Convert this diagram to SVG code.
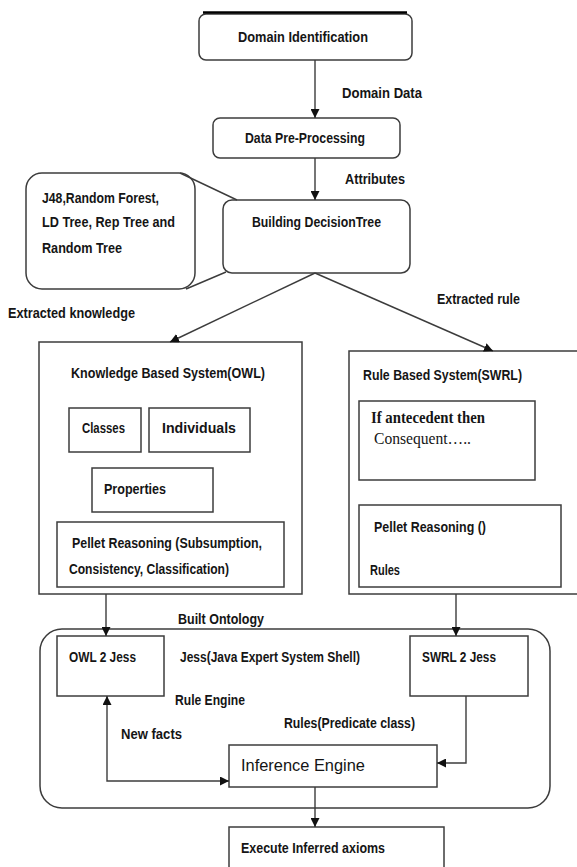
<svg xmlns="http://www.w3.org/2000/svg" width="577" height="867" viewBox="0 0 577 867">
<style>
.b{fill:#fff;stroke:#3c3c3c;stroke-width:1.5}
.c{fill:none;stroke:#3c3c3c;stroke-width:1.4}
.t{font-family:"Liberation Sans",Arial,sans-serif;font-weight:bold;font-size:15px;fill:#151515}
.r{font-family:"Liberation Sans",Arial,sans-serif;font-size:17px;fill:#151515}
.s{font-family:"Liberation Serif","Times New Roman",serif;font-size:16px;fill:#151515}
</style>
<defs>
<marker id="ah" viewBox="0 0 10 10" refX="10" refY="5" markerWidth="9" markerHeight="9" markerUnits="userSpaceOnUse" orient="auto-start-reverse">
<path d="M0,0 L10,5 L0,10 z" fill="#111"/>
</marker>
</defs>
<rect width="577" height="867" fill="#fff"/>

<g id="domain-identification">
<rect class="b" x="199" y="14" width="213" height="46" rx="7"/>
<path d="M203,12.5 L407,12.5" stroke="#000" stroke-width="2.5"/>
<text class="t" x="238" y="42" textLength="130" lengthAdjust="spacingAndGlyphs">Domain Identification</text>
</g>
<g id="data-preprocessing">
<rect class="b" x="213" y="118" width="187" height="40" rx="7"/>
<text class="t" x="245" y="143" textLength="120" lengthAdjust="spacingAndGlyphs">Data Pre-Processing</text>
</g>
<g id="building-decision-tree">
<rect class="b" x="223" y="200" width="187" height="73" rx="9"/>
<text class="t" x="252" y="227" textLength="129" lengthAdjust="spacingAndGlyphs">Building DecisionTree</text>
</g>
<g id="algorithms-callout">
<rect class="b" x="26" y="173" width="169" height="116" rx="16"/>
<path class="c" d="M180,173 L237,200 M186,289 L226,272"/>
<text class="t" x="42" y="203" textLength="117" lengthAdjust="spacingAndGlyphs">J48,Random Forest,</text>
<text class="t" x="42" y="227" textLength="133" lengthAdjust="spacingAndGlyphs">LD Tree, Rep Tree and</text>
<text class="t" x="42" y="253" textLength="80" lengthAdjust="spacingAndGlyphs">Random Tree</text>
</g>

<g id="knowledge-based-system">
<rect class="b" x="39" y="342" width="263" height="252"/>
<text class="t" x="71" y="378" textLength="194" lengthAdjust="spacingAndGlyphs">Knowledge Based System(OWL)</text>
</g>
<g id="classes">
<rect class="b" x="69" y="408" width="72" height="44"/>
<text class="t" x="82" y="433" textLength="43" lengthAdjust="spacingAndGlyphs">Classes</text>
</g>
<g id="individuals">
<rect class="b" x="149" y="408" width="101" height="44"/>
<text class="t" x="162" y="433" textLength="74" lengthAdjust="spacingAndGlyphs">Individuals</text>
</g>
<g id="properties">
<rect class="b" x="92" y="468" width="121" height="44"/>
<text class="t" x="104" y="494" textLength="62" lengthAdjust="spacingAndGlyphs">Properties</text>
</g>
<g id="pellet-reasoning-owl">
<rect class="b" x="57" y="522" width="227" height="65"/>
<text class="t" x="72" y="548" textLength="190" lengthAdjust="spacingAndGlyphs">Pellet Reasoning (Subsumption,</text>
<text class="t" x="69" y="574" textLength="160" lengthAdjust="spacingAndGlyphs">Consistency, Classification)</text>
</g>

<g id="rule-based-system">
<rect class="b" x="349" y="351" width="240" height="243"/>
<text class="t" x="363" y="380" textLength="159" lengthAdjust="spacingAndGlyphs">Rule Based System(SWRL)</text>
</g>
<g id="if-antecedent">
<rect class="b" x="359" y="401" width="176" height="79"/>
<text class="s" x="371" y="423" font-weight="bold" textLength="114" lengthAdjust="spacingAndGlyphs">If antecedent then</text>
<text class="s" x="374" y="444" font-size="15" textLength="97" lengthAdjust="spacingAndGlyphs">Consequent…..</text>
</g>
<g id="pellet-reasoning-swrl">
<rect class="b" x="359" y="505" width="202" height="82"/>
<text class="t" x="374" y="532" textLength="112" lengthAdjust="spacingAndGlyphs">Pellet Reasoning ()</text>
<text class="t" x="370" y="575" textLength="30" lengthAdjust="spacingAndGlyphs">Rules</text>
</g>

<g id="jess-container">
<rect class="b" x="40" y="629" width="510" height="179" rx="22"/>
<text class="t" x="180" y="662" textLength="180" lengthAdjust="spacingAndGlyphs">Jess(Java Expert System Shell)</text>
<text class="t" x="175" y="705" textLength="70" lengthAdjust="spacingAndGlyphs">Rule Engine</text>
</g>
<g id="owl2jess">
<rect class="b" x="57" y="636" width="107" height="60"/>
<text class="t" x="69" y="662" textLength="67" lengthAdjust="spacingAndGlyphs">OWL 2 Jess</text>
</g>
<g id="swrl2jess">
<rect class="b" x="410" y="636" width="118" height="60"/>
<text class="t" x="422" y="662" textLength="74" lengthAdjust="spacingAndGlyphs">SWRL 2 Jess</text>
</g>
<g id="inference-engine">
<rect class="b" x="229" y="745" width="208" height="42"/>
<text class="r" x="241" y="771" textLength="124" lengthAdjust="spacingAndGlyphs">Inference Engine</text>
</g>
<g id="execute-inferred-axioms">
<rect class="b" x="229" y="827" width="215" height="60"/>
<text class="t" x="241" y="853" textLength="144" lengthAdjust="spacingAndGlyphs">Execute Inferred axioms</text>
</g>

<g id="connectors">
<path class="c" d="M315,60 L315,118" marker-end="url(#ah)"/>
<path class="c" d="M315,158 L315,200" marker-end="url(#ah)"/>
<path class="c" d="M315,273 L170,342" marker-end="url(#ah)"/>
<path class="c" d="M315,273 L493,351" marker-end="url(#ah)"/>
<path class="c" d="M106,594 L106,636" marker-end="url(#ah)"/>
<path class="c" d="M456,594 L456,636" marker-end="url(#ah)"/>
<path class="c" d="M107,696 L107,781 L229,781" marker-start="url(#ah)" marker-end="url(#ah)"/>
<path class="c" d="M466,696 L466,763 L437,763" marker-end="url(#ah)"/>
<path class="c" d="M315,787 L315,827" marker-end="url(#ah)"/>
<text class="t" x="342" y="98" textLength="80" lengthAdjust="spacingAndGlyphs">Domain Data</text>
<text class="t" x="345" y="184" textLength="60" lengthAdjust="spacingAndGlyphs">Attributes</text>
<text class="t" x="8" y="318" textLength="127" lengthAdjust="spacingAndGlyphs">Extracted knowledge</text>
<text class="t" x="437" y="304" textLength="83" lengthAdjust="spacingAndGlyphs">Extracted rule</text>
<text class="t" x="178" y="624" textLength="86" lengthAdjust="spacingAndGlyphs">Built Ontology</text>
<text class="t" x="284" y="728" textLength="131" lengthAdjust="spacingAndGlyphs">Rules(Predicate class)</text>
<text class="t" x="121" y="739" textLength="61" lengthAdjust="spacingAndGlyphs">New facts</text>
</g>
</svg>
